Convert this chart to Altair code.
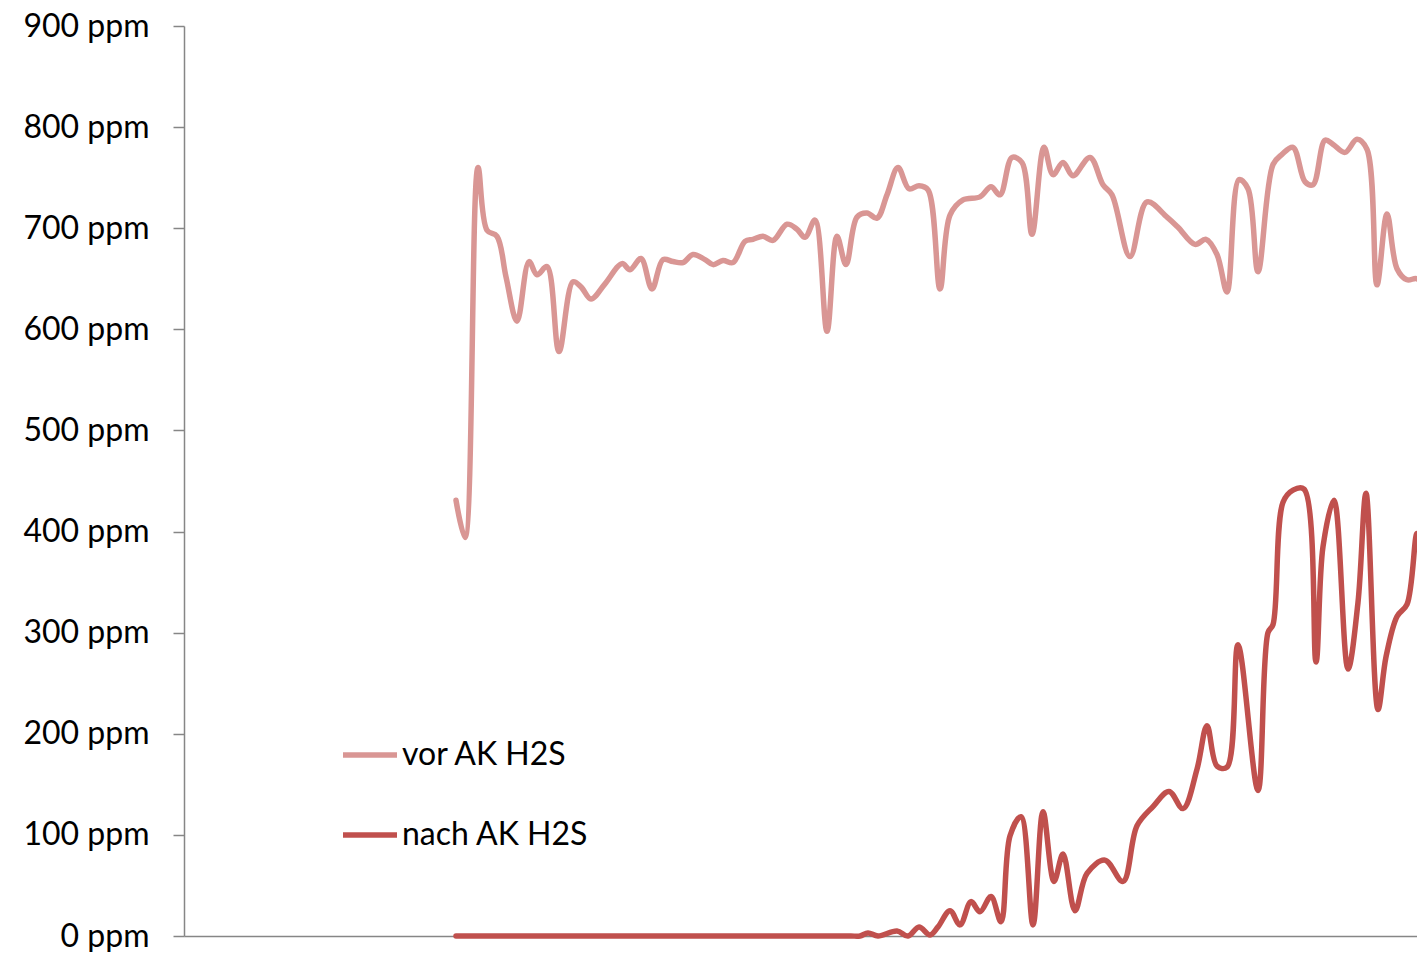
import altair as alt
import pandas as pd

# time (s) and concentration (ppm)
vor_t = [0, 9, 22, 31, 41, 50, 61, 73, 81, 91, 103, 117, 125, 135, 149, 166, 174, 185, 196, 207,
         217, 227, 237, 249, 257, 267, 277, 289, 297, 307, 317, 331, 341, 349, 359, 371, 381, 390,
         401, 411, 421, 431, 442, 453, 463, 472, 484, 494, 507, 524, 535, 544, 556, 566, 576, 588,
         597, 607, 617, 634, 647, 656, 674, 691, 711, 722, 739, 750, 761, 771, 783, 792, 802, 817,
         826, 837, 849, 857, 869, 877, 889, 901, 911, 921, 931, 941, 951, 961, 969]
vor_ppm = [431, 394, 760, 698, 692, 652, 608, 667, 654, 662, 578, 647, 642, 630, 645, 665, 659, 670,
           640, 669, 667, 666, 674, 669, 664, 668, 666, 687, 689, 692, 688, 704, 699, 691, 708, 598,
           692, 664, 711, 715, 710, 733, 760, 739, 742, 738, 640, 713, 728, 731, 741, 733, 770, 765,
           694, 780, 753, 765, 752, 770, 743, 733, 672, 726, 711, 701, 684, 689, 674, 637, 748, 739,
           657, 763, 773, 780, 746, 743, 787, 783, 775, 788, 778, 644, 714, 660, 649, 650, 639]

nach_t = [0, 50, 100, 150, 200, 250, 300, 350, 380, 395, 404, 412, 422, 441, 452, 463, 474, 482,
          494, 504, 515, 524, 535, 545, 554, 565, 577, 587, 598, 607, 619, 631, 649, 667, 681, 697,
          713, 727, 741, 751, 761, 771, 782, 802, 812, 817, 827, 837, 848, 860, 867, 878, 892, 902,
          910, 922, 930, 941, 951, 961, 969]
nach_ppm = [0, 0, 0, 0, 0, 0, 0, 0, 0, 0, 0, 3, 0, 5, 0, 9, 1, 9, 25, 11, 34, 24, 39, 14, 99, 118,
            11, 123, 54, 81, 25, 62, 75, 54, 109, 128, 143, 126, 165, 208, 168, 167, 288, 144, 300,
            308, 429, 441, 442, 271, 385, 431, 264, 330, 438, 224, 276, 316, 328, 398, 300]

series_names = ["vor AK H2S", "nach AK H2S"]
series_colors = ["#D99694", "#C0504D"]
y_ticks = [0, 100, 200, 300, 400, 500, 600, 700, 800, 900]

df = pd.concat([
    pd.DataFrame({"t": vor_t, "ppm": vor_ppm, "Reihe": series_names[0]}),
    pd.DataFrame({"t": nach_t, "ppm": nach_ppm, "Reihe": series_names[1]}),
], ignore_index=True)

FONT = "Lato"

chart = alt.Chart(df).mark_line(
    strokeWidth=5.5, strokeCap="round", strokeJoin="round", interpolate="catmull-rom"
).encode(
    x=alt.X("t:Q", scale=alt.Scale(domain=[-272, 961], nice=False, zero=False),
            axis=alt.Axis(title=None, labels=False, ticks=False, grid=False,
                          domainColor="#868686", domainWidth=1.5)),
    y=alt.Y("ppm:Q", scale=alt.Scale(domain=[0, 900], nice=False),
            axis=alt.Axis(title=None, values=y_ticks, labelExpr="datum.value + ' ppm'",
                          grid=False, domainColor="#868686", domainWidth=1.5,
                          tickColor="#868686", tickWidth=1.5, tickSize=11, labelPadding=24,
                          labelFont=FONT, labelFontSize=32, labelColor="#000000")),
    color=alt.Color("Reihe:N", sort=series_names,
                    scale=alt.Scale(domain=series_names, range=series_colors),
                    legend=alt.Legend(title=None, orient="none", legendX=156, legendY=699,
                                      symbolType="stroke", symbolSize=2916, symbolStrokeWidth=5.5,
                                      labelFont=FONT, labelFontSize=32, labelColor="#000000",
                                      labelLimit=0, labelOffset=2, rowPadding=34, padding=0)),
    order=alt.Order("t:Q"),
).properties(
    width=1233, height=910,
    autosize=alt.AutoSizeParams(type="none"),
    padding={"left": 176, "top": 18, "right": 0, "bottom": 16},
).configure_view(stroke=None)

chart.save("out.html", embed_options={"renderer": "svg", "actions": False})
